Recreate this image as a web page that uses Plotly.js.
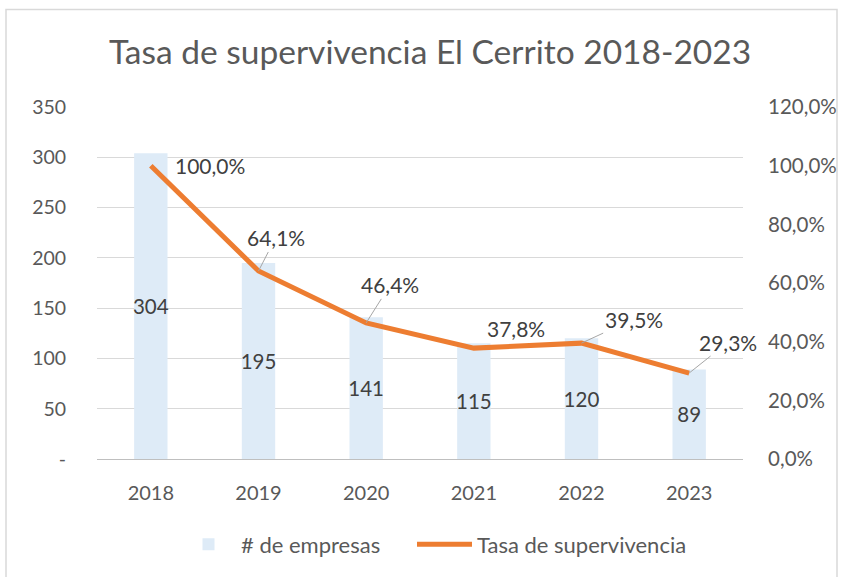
<!DOCTYPE html>
<html>
<head>
<meta charset="utf-8">
<script src="https://cdn.plot.ly/plotly-3.0.1.min.js"></script>
<style>html,body{margin:0;padding:0;background:#fff;}#chart{width:841px;height:577px;}</style>
</head>
<body>
<div id="chart"></div>
<script>
const years = ['2018', '2019', '2020', '2021', '2022', '2023'];
const empresas = [304, 195, 141, 115, 120, 89];
const tasa = [1.000, 0.641, 0.464, 0.378, 0.395, 0.293];
const leftTickVals = [0, 50, 100, 150, 200, 250, 300, 350];
const leftTickText = ['-', '50', '100', '150', '200', '250', '300', '350'];
const rightTickVals = [0, 0.2, 0.4, 0.6, 0.8, 1.0, 1.2];
const rightTickText = ['0,0%', '20,0%', '40,0%', '60,0%', '80,0%', '100,0%', '120,0%'];
// label offsets (pixels) for the line's data labels
const labelAx = [59, 17, 24, 42, 52, 39];
const labelAy = [0, -33, -38, -20, -24, -31];
const leader = [false, true, true, false, true, true];

const FONT = 'Lato, "Open Sans", sans-serif';
const fmtPct = v => (v * 100).toFixed(1).replace('.', ',') + '%';

const traces = [
  {
    type: 'bar', x: years, y: empresas, name: '# de empresas',
    marker: {color: '#DEEBF7'},
    text: empresas.map(String), textposition: 'inside', insidetextanchor: 'middle',
    textangle: 0, constraintext: 'none',
    textfont: {family: FONT, size: 20.5, color: '#404040'},
    hoverinfo: 'skip', legend: 'legend'
  },
  {
    type: 'scatter', mode: 'lines', x: years, y: tasa, yaxis: 'y2',
    name: 'Tasa de supervivencia',
    line: {color: '#ED7D31', width: 5},
    hoverinfo: 'skip', legend: 'legend2'
  }
];

const annotations = years.map((yr, i) => ({
  x: i, y: tasa[i], xref: 'x', yref: 'y2',
  text: fmtPct(tasa[i]),
  showarrow: true, arrowhead: 0, arrowwidth: 1,
  arrowcolor: leader[i] ? '#A6A6A6' : 'rgba(0,0,0,0)',
  ax: labelAx[i], ay: labelAy[i],
  font: {family: FONT, size: 21, color: '#404040'}
}));

const legendBase = {orientation: 'h', xanchor: 'left', y: -0.243, yanchor: 'middle',
                    font: {family: FONT, size: 22, color: '#595959'}, itemwidth: 55,
                    bgcolor: 'rgba(0,0,0,0)'};

const layout = {
  width: 841, height: 577,
  margin: {l: 97, r: 98, t: 107, b: 116},
  paper_bgcolor: '#ffffff', plot_bgcolor: '#ffffff',
  font: {family: FONT, color: '#595959', size: 19},
  title: {text: 'Tasa de supervivencia El Cerrito 2018-2023',
          font: {family: FONT, size: 33.5, color: '#595959'},
          x: 430 / 841, xanchor: 'center', y: 1 - 52 / 577, yanchor: 'middle', yref: 'container'},
  bargap: 0.69,
  showlegend: true,
  legend: Object.assign({}, legendBase, {x: (176 - 97) / 646}),
  legend2: Object.assign({}, legendBase, {x: (412 - 97) / 646}),
  xaxis: {type: 'category', range: [-0.5, 5.5], autorange: false,
          showgrid: false, showline: true, linecolor: '#BFBFBF', linewidth: 1,
          ticks: 'outside', ticklen: 16, tickcolor: 'rgba(0,0,0,0)',
          tickfont: {family: FONT, size: 20, color: '#595959'}, fixedrange: true},
  yaxis: {range: [0, 350], autorange: false, tickvals: leftTickVals, ticktext: leftTickText,
          showgrid: true, gridcolor: '#D9D9D9', gridwidth: 1, zeroline: false,
          ticks: 'outside', ticklen: 26, tickcolor: 'rgba(0,0,0,0)',
          tickfont: {family: FONT, size: 19.5, color: '#595959'}, fixedrange: true},
  yaxis2: {range: [0, 1.2], autorange: false, tickvals: rightTickVals, ticktext: rightTickText,
           overlaying: 'y', side: 'right', showgrid: false, zeroline: false,
           ticks: 'outside', ticklen: 20, tickcolor: 'rgba(0,0,0,0)',
           tickfont: {family: FONT, size: 20.5, color: '#595959'}, fixedrange: true},
  annotations: annotations,
  shapes: [{type: 'rect', xref: 'paper', yref: 'paper',
            x0: (6 - 97) / 646, x1: (837 - 97) / 646,
            y0: (461 - 590) / 354, y1: (461 - 9) / 354,
            line: {color: '#D9D9D9', width: 1.5}, fillcolor: 'rgba(0,0,0,0)', layer: 'below'}]
};

Plotly.newPlot('chart', traces, layout, {displayModeBar: false, staticPlot: true});
</script>
</body>
</html>
